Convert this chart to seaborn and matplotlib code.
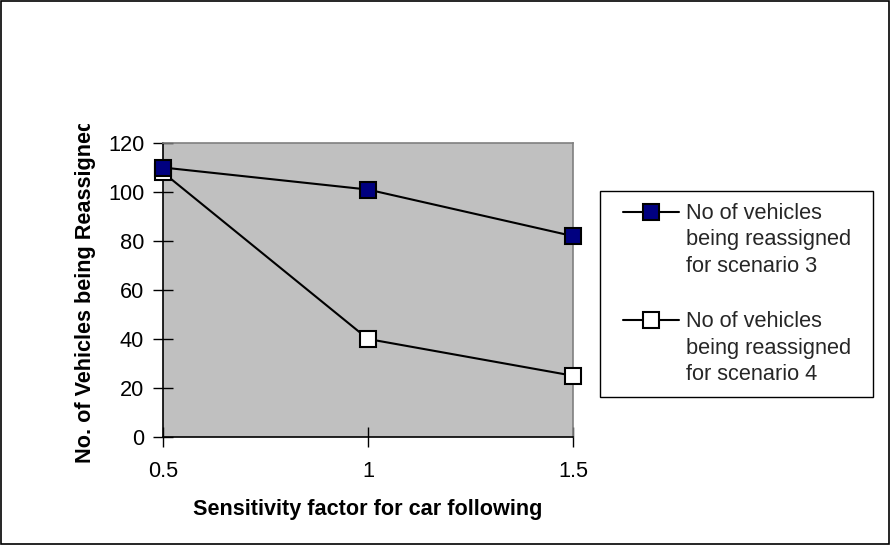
import numpy as np
import pandas as pd
import matplotlib
matplotlib.use("Agg")
import matplotlib.pyplot as plt
import seaborn as sns
from matplotlib.legend_handler import HandlerLine2D
from matplotlib.transforms import Bbox
from matplotlib.patches import Rectangle

# Data
sensitivity = [0.5, 1.0, 1.5]
scenario3 = [110, 101, 82]
scenario4 = [108, 40, 25]
label3 = "No of vehicles\nbeing reassigned\nfor scenario 3"
label4 = "No of vehicles\nbeing reassigned\nfor scenario 4"
x_ticks = [0.5, 1.0, 1.5]
x_ticklabels = ["0.5", "1", "1.5"]
y_ticks = [0, 20, 40, 60, 80, 100, 120]

sns.set_theme(style="white")
plt.rcParams["font.family"] = ["Liberation Sans", "DejaVu Sans"]
FS = 15.7
TITLE_FS = 15.6
LINESPACING = 1.34

fig = plt.figure(figsize=(8.9, 5.45), dpi=100)
ax = fig.add_axes([0.1831, 0.1982, 0.4607, 0.5394])
ax.set_facecolor("#C0C0C0")

df = pd.DataFrame({"x": sensitivity, "s3": scenario3, "s4": scenario4})
sns.lineplot(data=df, x="x", y="s4", ax=ax, color="black", lw=1.5,
             marker="s", markersize=11, markerfacecolor="white",
             markeredgecolor="black", markeredgewidth=1.5, label=label4,
             clip_on=False, zorder=3)
sns.lineplot(data=df, x="x", y="s3", ax=ax, color="black", lw=1.5,
             marker="s", markersize=11, markerfacecolor="#000080",
             markeredgecolor="black", markeredgewidth=1.5, label=label3,
             clip_on=False, zorder=4)

ax.set_xlim(0.5, 1.5)
ax.set_ylim(0, 120)
ax.set_xticks(x_ticks)
ax.set_xticklabels(x_ticklabels)
ax.set_yticks(y_ticks)
ax.tick_params(axis="both", direction="inout", length=14, width=1,
               color="black", labelsize=FS, labelcolor="black",
               left=True, bottom=True)
ax.tick_params(axis="y", pad=6.5)
ax.tick_params(axis="x", pad=10.5)

for side in ("left", "bottom"):
    ax.spines[side].set_color("black")
    ax.spines[side].set_linewidth(1.2)
for side in ("top", "right"):
    ax.spines[side].set_color("#808080")
    ax.spines[side].set_linewidth(1.2)

ax.set_xlabel("Sensitivity factor for car following", fontsize=TITLE_FS,
              fontweight="bold", color="black", labelpad=12)
ax.set_ylabel("No. of Vehicles being Reassigned", fontsize=TITLE_FS,
              fontweight="bold", color="black")
ax.yaxis.set_label_coords(-0.163, 0.5003)
# the axis title is cut off at the top edge of the chart area
ylab = ax.yaxis.label
ylab.set_clip_box(Bbox.from_extents(0, 0, 890, 545 - 124))
ylab.set_clip_on(True)

# legend sample geometry (points, relative to the label's last baseline)
SAMPLE_X0, SAMPLE_X1 = 7.7, 48.2
SAMPLE_Y = 26.0


class TopRowLine(HandlerLine2D):
    """Place the legend sample level with the first row of a wrapped label."""
    def create_artists(self, legend, orig_handle, xdescent, ydescent,
                       width, height, fontsize, trans):
        artists = super().create_artists(legend, orig_handle, xdescent,
                                         ydescent, width, height,
                                         fontsize, trans)
        for a in artists:
            n = len(a.get_xdata())
            if n == 1:
                xs = [(SAMPLE_X0 + SAMPLE_X1) / 2]
            else:
                xs = np.linspace(SAMPLE_X0, SAMPLE_X1, n)
            a.set_data(xs, np.full(len(xs), SAMPLE_Y))
        return artists


handles, labels = ax.get_legend_handles_labels()
order = [labels.index(label3), labels.index(label4)]
handles = [handles[i] for i in order]
labels = [labels[i] for i in order]
leg = ax.legend(handles, labels, loc="upper left",
                bbox_to_anchor=(600 / 890, 1 - 191 / 545, (873 - 600) / 890, 0.0),
                bbox_transform=fig.transFigure, mode="expand",
                borderaxespad=0.0, fontsize=FS, frameon=True, fancybox=False,
                edgecolor="black", framealpha=1, facecolor="white",
                handlelength=3.07, handletextpad=0.32, labelspacing=1.58,
                borderpad=0.55, handleheight=0.7,
                handler_map={h: TopRowLine() for h in handles})
leg.get_frame().set_linewidth(1.0)
for t in leg.get_texts():
    t.set_linespacing(LINESPACING)

fig.patches.append(Rectangle((0.0008, 0.0012), 0.9984, 0.9976,
                             transform=fig.transFigure, fill=False,
                             edgecolor="black", linewidth=1.2))

fig.savefig("out.png", dpi=100, facecolor="white")
